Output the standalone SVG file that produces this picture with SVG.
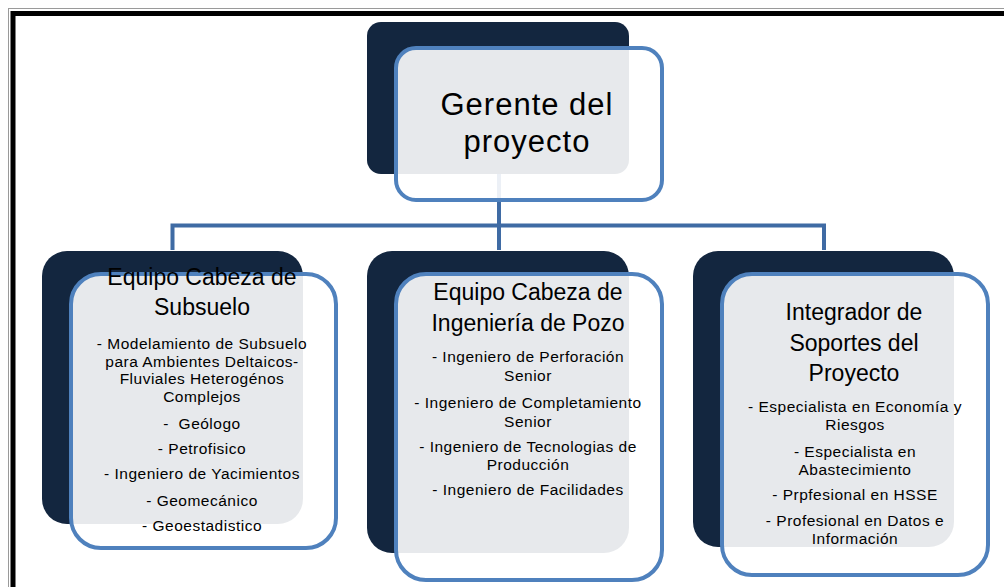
<svg xmlns="http://www.w3.org/2000/svg" width="1004" height="587" viewBox="0 0 1004 587">
<style>
.dark{fill:#13263F}
.frame{fill:#FFFFFF;fill-opacity:0.9;stroke:#4F81BD;stroke-width:4}
.conn{fill:none;stroke:#3F6BA4;stroke-width:4}
.t1{font-family:"Liberation Sans",Arial,sans-serif;font-size:31px;letter-spacing:1px;fill:#000;text-anchor:middle}
.t2{font-family:"Liberation Sans",Arial,sans-serif;font-size:23px;fill:#000;text-anchor:middle}
.it{font-family:"Liberation Sans",Arial,sans-serif;font-size:15.5px;letter-spacing:0.5px;fill:#000;text-anchor:middle}
</style>
<rect width="1004" height="587" fill="#FFFFFF"/>
<g id="border">
<rect x="8.5" y="8.5" width="1010" height="600" fill="none" stroke="#9A9A9A" stroke-width="1"/>
<rect x="13" y="13.5" width="1010" height="600" fill="none" stroke="#000" stroke-width="5"/>
</g>
<g id="connectors">
<path class="conn" d="M499 174 V250"/>
<path class="conn" d="M172.5 250 V225.5 H824 V250"/>
</g>
<g id="node-gerente">
<rect class="dark" x="367" y="22" width="262" height="152" rx="14"/>
<rect class="frame" x="396" y="48" width="266" height="152" rx="20"/>
<text class="t1"><tspan x="527" y="115">Gerente del</tspan><tspan x="527" y="152">proyecto</tspan></text>
</g>
<g id="node-subsuelo">
<rect class="dark" x="42" y="251" width="261" height="273" rx="25"/>
<rect class="frame" x="71" y="274" width="265" height="274" rx="30"/>
<text class="t2"><tspan x="202" y="285">Equipo Cabeza de</tspan><tspan x="202" y="315">Subsuelo</tspan></text>
<text class="it"><tspan x="202" y="349">- Modelamiento de Subsuelo</tspan><tspan x="202" y="366.5">para Ambientes Deltaicos-</tspan><tspan x="202" y="384">Fluviales Heterogénos</tspan><tspan x="202" y="401.5">Complejos</tspan></text>
<text class="it" x="202" y="429" xml:space="preserve">-  Geólogo</text>
<text class="it" x="202" y="454">- Petrofisico</text>
<text class="it" x="202" y="479">- Ingeniero de Yacimientos</text>
<text class="it" x="202" y="506">- Geomecánico</text>
<text class="it" x="202" y="531">- Geoestadistico</text>
</g>
<g id="node-pozo">
<rect class="dark" x="367" y="251" width="262" height="302" rx="25"/>
<rect class="frame" x="396" y="274" width="266" height="306" rx="30"/>
<text class="t2"><tspan x="528" y="300">Equipo Cabeza de</tspan><tspan x="528" y="331">Ingeniería de Pozo</tspan></text>
<text class="it"><tspan x="528" y="362">- Ingeniero de Perforación</tspan><tspan x="528" y="381">Senior</tspan></text>
<text class="it"><tspan x="528" y="408">- Ingeniero de Completamiento</tspan><tspan x="528" y="427">Senior</tspan></text>
<text class="it"><tspan x="528" y="452">- Ingeniero de Tecnologias de</tspan><tspan x="528" y="470">Producción</tspan></text>
<text class="it" x="528" y="495">- Ingeniero de Facilidades</text>
</g>
<g id="node-integrador">
<rect class="dark" x="693" y="251" width="261" height="296" rx="25"/>
<rect class="frame" x="722" y="274" width="266" height="301" rx="30"/>
<text class="t2"><tspan x="854" y="320">Integrador de</tspan><tspan x="854" y="351">Soportes del</tspan><tspan x="854" y="381">Proyecto</tspan></text>
<text class="it"><tspan x="855" y="412">- Especialista en Economía y</tspan><tspan x="855" y="430">Riesgos</tspan></text>
<text class="it"><tspan x="855" y="457">- Especialista en</tspan><tspan x="855" y="475">Abastecimiento</tspan></text>
<text class="it" x="855" y="500">- Prpfesional en HSSE</text>
<text class="it"><tspan x="855" y="526">- Profesional en Datos e</tspan><tspan x="855" y="544">Información</tspan></text>
</g>
</svg>
